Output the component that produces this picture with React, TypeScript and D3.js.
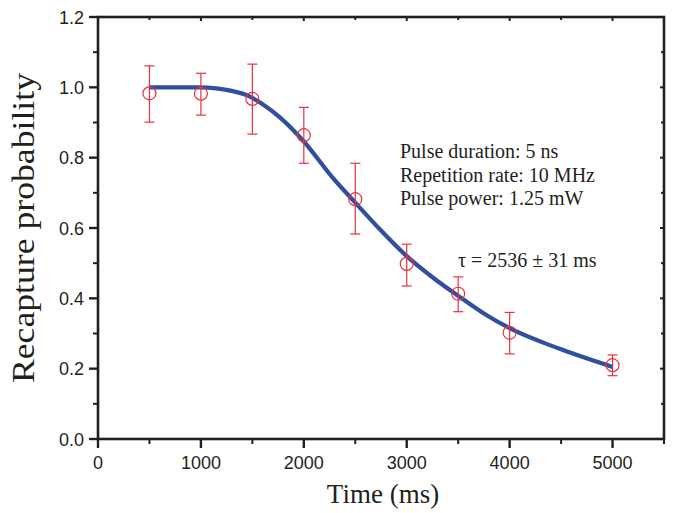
import React from "react";
import * as d3 from "d3";

const WIDTH = 676;
const HEIGHT = 513;
const MARGIN = { top: 17, left: 98, right: 12, bottom: 74 };

// measured points (time in ms, recapture probability, lower / upper error)
const times = [500, 1000, 1500, 2000, 2500, 3000, 3500, 4000, 5000];
const probs = [0.983, 0.982, 0.967, 0.864, 0.682, 0.498, 0.413, 0.302, 0.21];
const errLow = [0.901, 0.921, 0.867, 0.784, 0.583, 0.435, 0.362, 0.242, 0.18];
const errHigh = [1.061, 1.04, 1.066, 0.943, 0.784, 0.554, 0.461, 0.36, 0.239];

// fitted curve
const fitTimes = [500, 1000, 1150, 1300, 1450, 1600, 1770, 2000, 2280, 2500, 2750, 3000, 3250, 3500, 3750, 4000, 4500, 5000];
const fitProbs = [1.0, 1.0, 0.997, 0.99, 0.977, 0.952, 0.914, 0.846, 0.743, 0.672, 0.593, 0.52, 0.46, 0.407, 0.357, 0.315, 0.255, 0.205];

const xMajor = [0, 1000, 2000, 3000, 4000, 5000];
const xMinor = [500, 1500, 2500, 3500, 4500, 5500];
const yMajor = [0, 0.2, 0.4, 0.6, 0.8, 1.0, 1.2];
const yMinor = [0.1, 0.3, 0.5, 0.7, 0.9, 1.1];

const notes = ["Pulse duration: 5 ns", "Repetition rate: 10 MHz", "Pulse power: 1.25 mW"];
const tauNote = "\u03c4 = 2536 \u00b1 31 ms";

const AXIS = "#231f20";
const RED = "#e8323c";
const BLUE = "#2f4f9f";

export default function App() {
  const x = d3.scaleLinear().domain([0, 5500]).range([MARGIN.left, WIDTH - MARGIN.right]);
  const y = d3.scaleLinear().domain([0, 1.2]).range([HEIGHT - MARGIN.bottom, MARGIN.top]);

  const fitLine = d3
    .line<number>()
    .x((d, i) => x(fitTimes[i]))
    .y(d => y(d))
    .curve(d3.curveMonotoneX);

  const x0 = x(0);
  const x1 = x(5500);
  const y0 = y(0);
  const y1 = y(1.2);

  return (
    <svg width={WIDTH} height={HEIGHT} style={{ position: "absolute", left: 0, top: 0 }}>
      <rect width={WIDTH} height={HEIGHT} fill="white" />

      {/* fit curve */}
      <path d={fitLine(fitProbs) || ""} fill="none" stroke={BLUE} strokeWidth={4.2} />

      {/* error bars and points */}
      {times.map((t, i) => (
        <g key={t} stroke={RED} strokeWidth={1.2} fill="none">
          <line x1={x(t)} x2={x(t)} y1={y(errLow[i])} y2={y(errHigh[i])} />
          <line x1={x(t) - 5} x2={x(t) + 5} y1={y(errLow[i])} y2={y(errLow[i])} />
          <line x1={x(t) - 5} x2={x(t) + 5} y1={y(errHigh[i])} y2={y(errHigh[i])} />
          <circle cx={x(t)} cy={y(probs[i])} r={6.5} fill="white" fillOpacity={0} />
        </g>
      ))}

      {/* frame */}
      <rect x={x0} y={y1} width={x1 - x0} height={y0 - y1} fill="none" stroke={AXIS} strokeWidth={2.6} />

      {/* bottom ticks */}
      {xMajor.map(v => (
        <g key={"xm" + v}>
          <line x1={x(v)} x2={x(v)} y1={y0} y2={y0 + 9} stroke={AXIS} strokeWidth={2.4} />
          <line x1={x(v)} x2={x(v)} y1={y1} y2={y1 + 4} stroke={AXIS} strokeWidth={2} />
          <text x={x(v)} y={y0 + 30} textAnchor="middle" fontFamily="Liberation Sans, Arial, sans-serif" fontSize={18} fill={AXIS}>
            {v}
          </text>
        </g>
      ))}
      {xMinor.map(v => (
        <g key={"xn" + v}>
          <line x1={x(v)} x2={x(v)} y1={y0} y2={y0 + 5} stroke={AXIS} strokeWidth={2} />
          <line x1={x(v)} x2={x(v)} y1={y1} y2={y1 + 3} stroke={AXIS} strokeWidth={2} />
        </g>
      ))}

      {/* left ticks */}
      {yMajor.map(v => (
        <g key={"ym" + v}>
          <line x1={x0 - 9} x2={x0} y1={y(v)} y2={y(v)} stroke={AXIS} strokeWidth={2.4} />
          <line x1={x1 - 4} x2={x1} y1={y(v)} y2={y(v)} stroke={AXIS} strokeWidth={2} />
          <text x={x0 - 14} y={y(v) + 6.5} textAnchor="end" fontFamily="Liberation Sans, Arial, sans-serif" fontSize={18} fill={AXIS}>
            {v.toFixed(1)}
          </text>
        </g>
      ))}
      {yMinor.map(v => (
        <g key={"yn" + v}>
          <line x1={x0 - 5} x2={x0} y1={y(v)} y2={y(v)} stroke={AXIS} strokeWidth={2} />
          <line x1={x1 - 3} x2={x1} y1={y(v)} y2={y(v)} stroke={AXIS} strokeWidth={2} />
        </g>
      ))}

      {/* axis titles */}
      <text x={(x0 + x(5500)) / 2 + 2} y={503} textAnchor="middle" fontFamily="Liberation Serif, Times New Roman, serif" fontSize={27} fill={AXIS}>
        Time (ms)
      </text>
      <text
        transform={`translate(34, 228) rotate(-90)`}
        textAnchor="middle"
        fontFamily="Liberation Serif, Times New Roman, serif"
        fontSize={31}
        textLength={310}
        lengthAdjust="spacingAndGlyphs"
        fill={AXIS}
      >
        Recapture probability
      </text>

      {/* annotations */}
      {notes.map((n, i) => (
        <text key={n} x={400} y={158 + i * 23.5} fontFamily="Liberation Serif, Times New Roman, serif" fontSize={20} fill={AXIS}>
          {n}
        </text>
      ))}
      <text x={458} y={267} fontFamily="Liberation Serif, Times New Roman, serif" fontSize={20} fill={AXIS}>
        {tauNote}
      </text>
    </svg>
  );
}
